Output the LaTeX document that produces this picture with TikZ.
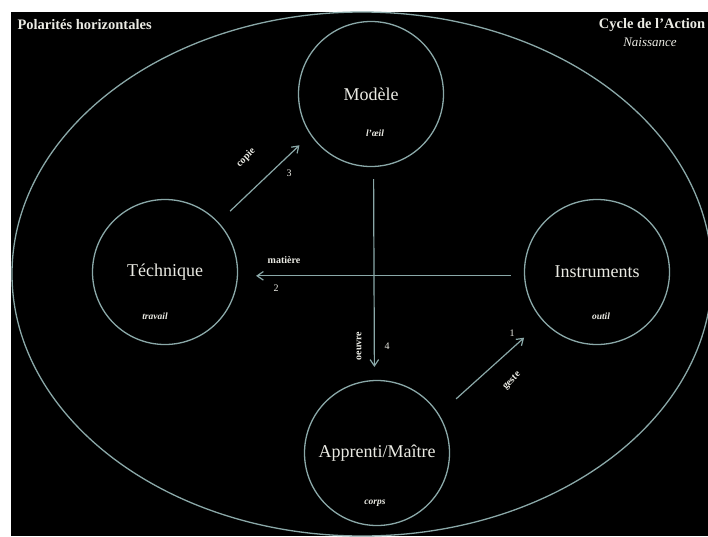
\documentclass[tikz,border=0pt]{standalone}
\usepackage{fontspec}
\setmainfont{Liberation Serif}
\usetikzlibrary{arrows.meta,positioning}
\definecolor{linec}{RGB}{138,168,168}
\definecolor{txtc}{RGB}{235,235,228}

\begin{document}
\begin{tikzpicture}[x=1pt, y=-1pt, pole/.style={circle, draw=linec, line width=1.3pt, minimum size=145pt, text=txtc, font=\fontsize{18}{20}\selectfont}, sub/.style={text=txtc, font=\fontsize{9.5}{11}\selectfont\bfseries\itshape}, lbl/.style={text=txtc, font=\fontsize{10}{12}\selectfont\bfseries}, num/.style={text=txtc, font=\fontsize{10}{12}\selectfont}, arr/.style={draw=linec, line width=1.2pt, -{Straight Barb[length=2.2mm, width=3mm]}}]
\useasboundingbox (0,0) rectangle (708,536);
\fill[white] (0,0) rectangle (708,536);
\fill[black] (11,12) rectangle (708,536);
\draw[linec, line width=1.3pt] (362,274) ellipse [x radius=350, y radius=262];
\node[text=txtc, font=\fontsize{14.5}{16}\selectfont\bfseries, anchor=west] (titre) at (14,25) {Polarités horizontales};
\node[text=txtc, font=\fontsize{14.5}{16}\selectfont\bfseries] (cycle) at (652,25) {Cycle de l’Action};
\node[text=txtc, font=\fontsize{13}{15}\selectfont\itshape] (naiss) at (650,42) {Naissance};
\node[pole] (modele) at (371,94) {Modèle};
\node[pole] (tech) at (165,272) {Téchnique};
\node[pole] (instr) at (597,272) {Instruments};
\node[pole] (appr) at (377,453) {Apprenti/Maître};
\node[sub] (oeil) at (375,133) {l’œil};
\node[sub] (travail) at (155,316) {travail};
\node[sub] (outil) at (601,316) {outil};
\node[sub] (corps) at (375,503) {corps};
% fleches du cycle
\draw[arr, shorten <=23pt, shorten >=25pt] (appr.32) -- (instr.222);
\draw[arr, shorten <=13pt, shorten >=18pt] (instr.183) -- (tech.357);
\draw[arr, shorten <=16pt, shorten >=15pt] (tech.43.6) -- (modele.214);
\draw[arr, shorten <=12pt, shorten >=13pt] (modele.272) -- (appr.92);
\node[lbl, rotate=45] (geste) at (512,381) {geste};
\node[num] (n1) at (512,333) {1};
\node[lbl] (matiere) at (284,260) {matière};
\node[num] (n2) at (276,288) {2};
\node[lbl, rotate=45] (copie) at (246,158) {copie};
\node[num] (n3) at (289,173) {3};
\node[lbl, rotate=90] (oeuvre) at (359,346) {oeuvre};
\node[num] (n4) at (387,346) {4};
\end{tikzpicture}
\end{document}
